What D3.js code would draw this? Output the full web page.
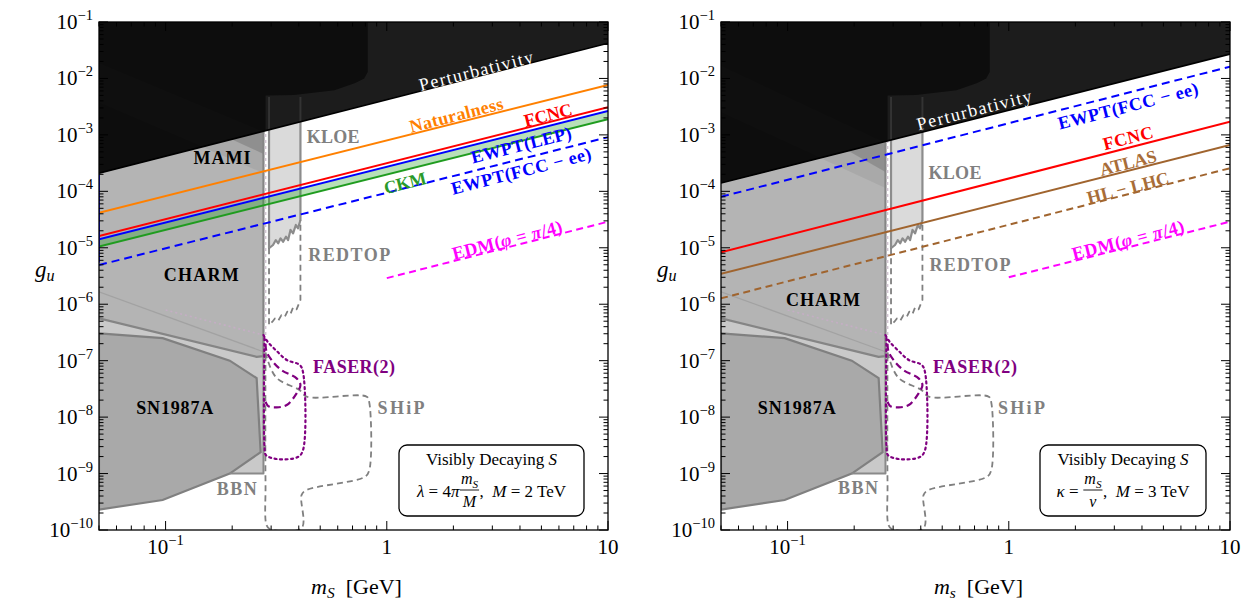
<!DOCTYPE html>
<html><head><meta charset="utf-8">
<script src="https://cdn.jsdelivr.net/npm/d3@7"></script>
<style>
body{margin:0;background:#fff}
</style>
</head><body>
<svg id="c" width="1251" height="602"></svg>
<script>
// ---------------- data ----------------
const xDomain = [0.05, 10];
const yDomain = [1e-10, 1e-1];
const xTickValues = [0.1, 1, 10];
const xTickLabels = [["10", "−1"], ["1", ""], ["10", ""]];
const yTickValues = [1e-1, 1e-2, 1e-3, 1e-4, 1e-5, 1e-6, 1e-7, 1e-8, 1e-9, 1e-10];
const yTickLabels = [["10","−1"],["10","−2"],["10","−3"],["10","−4"],["10","−5"],["10","−6"],["10","−7"],["10","−8"],["10","−9"],["10","−10"]];

// exclusion regions (m_S [GeV], g_u)
const perturbativityLeft  = [[0.05, 2.1e-4], [10, 4.2e-2]];
const perturbativityRight = [[0.05, 1.4e-4], [10, 2.7e-2]];
const darkRegion = [[0.05,1],[0.82,1],[0.82,1.3e-2],[0.79,1.0e-2],[0.72,8.3e-3],[0.58,6.2e-3],[0.38,5.1e-3],[0.283,5.0e-3],[0.283,1e-6],[0.05,1e-6]];
const charm = [[0.05,1],[0.277,1],[0.277,1.2e-7],[0.258,1.17e-7],[0.05,5.6e-7]];
const charmEdge = [[0.05,5.6e-7],[0.258,1.17e-7],[0.277,1.2e-7],[0.277,1]];
const charmInner = [[0.05,1.66e-6],[0.277,1.44e-7]];
const bbn = [[0.05,5.6e-7],[0.258,1.17e-7],[0.277,1.2e-7],[0.277,1e-9],[0.05,1e-9]];
const bbnEdge = [[0.277,1.2e-7],[0.277,1e-9],[0.195,1e-9]];
const sn1987a = [[0.05,3.05e-7],[0.097,2.5e-7],[0.195,1.0e-7],[0.258,4.9e-8],[0.269,2.4e-9],[0.195,1.0e-9],[0.097,3.4e-10],[0.05,2.3e-10]];
const mamiOuterLeft = [[0.05,1.9e-2],[0.277,1.15e-3],[0.277,2.1e-4],[0.05,3.7e-3]];
const mamiInnerLeft = [[0.05,1.9e-2],[0.277,1.15e-3],[0.277,4.6e-4],[0.05,1.0e-2]];
const mamiOuterRight = [[0.05,1.7e-2],[0.277,7.3e-4],[0.277,1.15e-4],[0.05,2.5e-3]];
const mamiInnerRight = [[0.05,1.7e-2],[0.277,7.3e-4],[0.277,2.2e-4],[0.05,1.0e-2]];
const kloe = [[0.2935,4.7e-3],[0.407,4.7e-3],[0.407,3.1e-5],[0.397,2.21e-5],[0.388,2.53e-5],[0.377,1.8e-5],[0.367,2.07e-5],[0.358,1.37e-5],[0.350,1.57e-5],[0.340,1.28e-5],[0.331,1.47e-5],[0.323,1.2e-5],[0.315,1.37e-5],[0.306,1.12e-5],[0.2935,9.8e-6]];
const redtop = [[0.2935,9.8e-6],[0.2935,4.3e-7],[0.304,4.9e-7],[0.312,5.6e-7],[0.323,5.1e-7],[0.334,6.4e-7],[0.346,6.0e-7],[0.355,7.4e-7],[0.367,6.7e-7],[0.377,8.8e-7],[0.391,8.1e-7],[0.407,1.19e-6],[0.407,3.1e-5]];
const ship = [[0.283,1.4e-7],[0.289,1.03e-7],[0.318,4.92e-8],[0.404,3.0e-8],[0.434,2.3e-8],[0.812,2.3e-8],[0.834,1.78e-8],[0.834,1.16e-9],[0.798,8.8e-10],[0.434,5.1e-10],[0.412,4.2e-10],[0.412,1.08e-10],[0.296,1.04e-10],[0.286,1.22e-10],[0.283,6.8e-10],[0.283,1.4e-7]];
const faser2 = [[0.277,2.84e-7],[0.29,2.14e-7],[0.318,1.48e-7],[0.353,1.03e-7],[0.404,8.4e-8],[0.418,6.3e-8],[0.418,2.6e-9],[0.396,1.96e-9],[0.318,1.81e-9],[0.284,2.13e-9],[0.28,3e-9],[0.28,2.84e-7]];
const faser2Hidden = [[0.1,7.9e-7],[0.277,2.84e-7]];
const faser2HiddenEdge = [[0.283,2.84e-7],[0.283,1e-2]];
const faser = [[0.283,2.0e-7],[0.286,1.44e-7],[0.301,1.03e-7],[0.334,6.8e-8],[0.391,4.86e-8],[0.407,3.7e-8],[0.391,2.63e-8],[0.353,1.64e-8],[0.318,1.49e-8],[0.291,1.57e-8],[0.279,2.15e-8]];

// projection lines, left panel
const naturalnessLeft = [[0.05,4.18e-5],[10,7.66e-3]];
const fcncLeft        = [[0.05,1.62e-5],[10,3.09e-3]];
const ewptLepLeft     = [[0.05,1.41e-5],[10,2.65e-3]];
const ckmLeft         = [[0.05,1.05e-5],[10,1.89e-3]];
const ewptFccLeft     = [[0.05,4.95e-6],[10,9.1e-4]];
const ewptEdgeLeft    = [[0.05,2.1e-4],[0.05,5.5e-6]];
const edmLeft         = [[1,2.9e-6],[10,2.9e-5]];
// right panel
const ewptFccRight = [[0.05,8.0e-5],[10,1.62e-2]];
const fcncRight    = [[0.05,8.3e-6],[10,1.71e-3]];
const atlasRight   = [[0.05,3.45e-6],[10,6.6e-4]];
const hllhcRight   = [[0.05,1.27e-6],[10,2.57e-4]];
const edmRight     = [[1,3.0e-6],[10,2.9e-5]];

// labels (text, anchor in data coords)
const labelsLeft = [
 {t:[["Perturbativity"]], m:2.53, g:1.36e-2, c:"#fff", rot:true, w:117, bold:false},
 {t:[["Naturalness"]], m:2.06, g:2.25e-3, c:"#ff8000", rot:true, w:96},
 {t:[["FCNC"]], m:5.36, g:2.25e-3, c:"#ff0000", rot:true, w:49},
 {t:[["EWPT(LEP)"]], m:4.05, g:6.6e-4, c:"#0000ff", rot:true, w:103},
 {t:[["EWPT(FCC − ee)"]], m:4.05, g:2.29e-4, c:"#0000ff", rot:true, w:144},
 {t:[["CKM"]], m:1.21, g:1.4e-4, c:"#2a9a2a", rot:true, w:43},
 {t:[["EDM("],["φ","i"],[" = "],["π","i"],["/4)"]], m:3.5, g:1.37e-5, c:"#ff00ff", rot:true, w:113},
 {t:[["KLOE"]], m:0.572, g:9.2e-4, c:"#808080", w:53},
 {t:[["REDTOP"]], m:0.676, g:7.4e-6, c:"#808080", w:82},
 {t:[["MAMI"]], m:0.18, g:3.9e-4, c:"#000", w:57},
 {t:[["CHARM"]], m:0.145, g:3.3e-6, c:"#000", w:75},
 {t:[["FASER(2)"]], m:0.711, g:7.7e-8, c:"#800080", w:82},
 {t:[["SN1987A"]], m:0.110, g:1.45e-8, c:"#000", w:77},
 {t:[["SHiP"]], m:1.16, g:1.45e-8, c:"#808080", w:47},
 {t:[["BBN"]], m:0.21, g:5.3e-10, c:"#808080", w:40}
];
const labelsRight = [
 {t:[["Perturbativity"]], m:0.697, g:2.76e-3, c:"#fff", rot:true, w:118, bold:false},
 {t:[["EWPT(FCC − ee)"]], m:3.46, g:3.25e-3, c:"#0000ff", rot:true, w:144},
 {t:[["FCNC"]], m:3.46, g:8.8e-4, c:"#ff0000", rot:true, w:51},
 {t:[["ATLAS"]], m:3.46, g:3.18e-4, c:"#a86d38", rot:true, w:58},
 {t:[["HL − LHC"]], m:3.46, g:1.15e-4, c:"#a86d38", rot:true, w:84},
 {t:[["EDM("],["φ","i"],[" = "],["π","i"],["/4)"]], m:3.46, g:1.37e-5, c:"#ff00ff", rot:true, w:115},
 {t:[["KLOE"]], m:0.571, g:2.1e-4, c:"#808080", w:53},
 {t:[["REDTOP"]], m:0.668, g:4.95e-6, c:"#808080", w:81},
 {t:[["CHARM"]], m:0.1445, g:1.19e-6, c:"#000", w:74},
 {t:[["FASER(2)"]], m:0.703, g:7.7e-8, c:"#800080", w:84},
 {t:[["SN1987A"]], m:0.110, g:1.45e-8, c:"#000", w:78},
 {t:[["SHiP"]], m:1.14, g:1.45e-8, c:"#808080", w:47},
 {t:[["BBN"]], m:0.208, g:5.5e-10, c:"#808080", w:40}
];

// ---------------- font detection ----------------
function pickFont(cands) {
  const cv = document.createElement("canvas").getContext("2d");
  const probe = "mmmmmmmmwwwwwiiiiilllQ1234567890";
  for (const f of cands) {
    let ok = false;
    for (const base of ["monospace", "sans-serif"]) {
      cv.font = `40px ${base}`; const w0 = cv.measureText(probe).width;
      cv.font = `40px "${f}", ${base}`; const w1 = cv.measureText(probe).width;
      if (Math.abs(w0 - w1) > 0.5) ok = true;
    }
    if (ok) return `"${f}"`;
  }
  return "serif";
}
const FONT = pickFont(["Liberation Serif", "Times New Roman", "Tinos", "DejaVu Serif", "Noto Serif", "FreeSerif", "Nimbus Roman", "Nimbus Roman No9 L", "Times"]) + ", serif";

// ---------------- drawing ----------------
const svg = d3.select("#c").attr("font-family", FONT).style("font-family", FONT);
const defs = svg.append("defs");
const Y0 = 22, Y1 = 530;
const panelPx = [[99, 608], [721, 1230]];

function addParts(sel, parts, size) {
  let shift = 0;
  parts.forEach(p => {
    const [s, st] = p;
    const ts = sel.append("tspan").text(s);
    if (st === "i") ts.attr("font-style", "italic");
    if (st === "sub") {
      ts.attr("font-style", "italic").attr("font-size", size * 0.7).attr("dy", 4 - shift);
      shift = 4;
    } else if (shift !== 0) { ts.attr("dy", -shift); shift = 0; }
  });
}

function drawPanel(idx, cfg) {
  const [px0, px1] = panelPx[idx];
  const x = d3.scaleLog().domain(xDomain).range([px0, px1]);
  const y = d3.scaleLog().domain(yDomain).range([Y1, Y0]);
  const line = d3.line().x(d => x(d[0])).y(d => y(d[1]));
  const smooth = d3.line().x(d => x(d[0])).y(d => y(d[1])).curve(d3.curveCatmullRom.alpha(0.5));

  defs.append("clipPath").attr("id", "plot" + idx).append("rect")
    .attr("x", px0).attr("y", Y0).attr("width", px1 - px0).attr("height", Y1 - Y0);
  const pertPoly = [cfg.pert[0], cfg.pert[1], [10, 1], [0.05, 1]];
  defs.append("clipPath").attr("id", "pert" + idx).append("path").attr("d", line(pertPoly) + "Z");

  const g = svg.append("g").attr("clip-path", `url(#plot${idx})`);
  const area = (pts, fill, op) => g.append("path").attr("d", line(pts) + "Z").attr("fill", fill).attr("fill-opacity", op == null ? 1 : op);
  const stroke = (pts, col, w, dash, gen) => g.append("path").attr("d", (gen || line)(pts)).attr("fill", "none")
    .attr("stroke", col).attr("stroke-width", w).attr("stroke-dasharray", dash || null).attr("stroke-linejoin", "round");

  // grey exclusion regions
  area(bbn, "#c9c9c9");
  area(charm, "#b4b4b4");
  stroke(faser2Hidden, "#c4aec4", 1.6, "2,3");
  stroke(charmInner, "#a2a2a2", 1.2);
  area(cfg.mamiOuter, "#000", 0.06);
  area(cfg.mamiInner, "#000", 0.15);
  area(kloe, "#dadada");
  area(sn1987a, "#a9a9a9");
  g.append("path").attr("d", line(sn1987a) + "Z").attr("fill", "none").attr("stroke", "#808080").attr("stroke-width", 2.2);
  stroke(charmEdge, "#858585", 2.2);
  stroke(bbnEdge, "#8a8a8a", 2);
  stroke(kloe.slice(1).concat([kloe[0]]), "#8c8c8c", 2.2);
  stroke(faser2HiddenEdge, "#d2c6d2", 1.8, "3,3");
  // future sensitivities (dashed)
  stroke(redtop, "#808080", 1.8, "6,4");
  stroke(ship, "#808080", 1.8, "6,4", smooth);
  stroke(faser2, "#800080", 2.2, "2,3.5", smooth).attr("stroke-linecap", "round");
  stroke(faser, "#800080", 2.2, "7,4", smooth);

  // projection lines
  if (cfg.band) {
    g.append("path").attr("d", line(cfg.band[0].concat(cfg.band[1].slice().reverse())) + "Z")
      .attr("fill", "#22a022").attr("fill-opacity", 0.32);
  }
  cfg.lines.forEach(l => stroke(l.d, l.c, 2, l.dash));

  // perturbativity (black)
  g.append("path").attr("d", line(pertPoly) + "Z").attr("fill", "#1c1c1c");
  const pg = g.append("g").attr("clip-path", `url(#pert${idx})`);
  pg.append("path").attr("d", line(darkRegion) + "Z").attr("fill", "#0d0d0d");
  pg.append("path").attr("d", line(cfg.mamiOuter) + "Z").attr("fill", "#fff").attr("fill-opacity", 0.012);
  pg.append("path").attr("d", line([kloe[0], [kloe[0][0], 1e-6]])).attr("stroke", "#333").attr("stroke-width", 2);
  pg.append("path").attr("d", line([kloe[1], [kloe[1][0], 1e-6]])).attr("stroke", "#333").attr("stroke-width", 2);
  stroke(cfg.pert, "#000", 1.6);

  // labels
  const ang = Math.atan((y(1e-3) - y(1e-2)) / (x(10) - x(1))) * 180 / Math.PI;
  cfg.labels.forEach(L => {
    const t = svg.append("text")
      .attr("transform", `translate(${x(L.m)},${y(L.g)})` + (L.rot ? ` rotate(${-ang})` : ""))
      .attr("text-anchor", "middle").attr("dominant-baseline", "central")
      .attr("font-size", 18).attr("font-weight", L.bold === false ? "normal" : "bold")
      .attr("fill", L.c);
    addParts(t, L.t, 18);
    if (L.w) t.attr("textLength", L.w).attr("lengthAdjust", "spacing");
  });

  // frame + ticks
  const ax = svg.append("g").attr("stroke", "#000").attr("stroke-width", 1);
  ax.append("rect").attr("x", px0).attr("y", Y0).attr("width", px1 - px0).attr("height", Y1 - Y0)
    .attr("fill", "none").attr("stroke-width", 1.3);
  const xMinor = [], yMinor = [];
  for (let e = -2; e <= 0; e++) for (let k = 2; k <= 9; k++) { const v = k * Math.pow(10, e); if (v >= 0.05 && v <= 10) xMinor.push(v); }
  for (let e = -10; e <= -2; e++) for (let k = 2; k <= 9; k++) yMinor.push(k * Math.pow(10, e));
  const tk = (v, len, isX) => {
    if (isX) {
      const xx = x(v);
      ax.append("line").attr("x1", xx).attr("x2", xx).attr("y1", Y1).attr("y2", Y1 - len);
      ax.append("line").attr("x1", xx).attr("x2", xx).attr("y1", Y0).attr("y2", Y0 + len);
    } else {
      const yy = y(v);
      ax.append("line").attr("y1", yy).attr("y2", yy).attr("x1", px0).attr("x2", px0 + len);
      ax.append("line").attr("y1", yy).attr("y2", yy).attr("x1", px1).attr("x2", px1 - len);
    }
  };
  xMinor.forEach(v => tk(v, 4.5, true));
  xTickValues.forEach(v => tk(v, 9, true));
  yMinor.forEach(v => tk(v, 4.5, false));
  yTickValues.forEach(v => tk(v, 9, false));

  // tick labels
  const supLabel = (xx, yy, lab, anchor) => {
    const t = svg.append("text").attr("x", xx).attr("y", yy).attr("text-anchor", anchor).attr("font-size", 21);
    t.append("tspan").text(lab[0]);
    if (lab[1]) t.append("tspan").text(lab[1]).attr("font-size", 14.5).attr("dy", -9);
  };
  xTickValues.forEach((v, i) => supLabel(x(v), 554, xTickLabels[i], "middle"));
  yTickValues.forEach((v, i) => supLabel(px0 - 6, y(v) + 7, yTickLabels[i], "end"));

  // axis labels
  const xl = svg.append("text").attr("x", (px0 + px1) / 2 + 3).attr("y", 594).attr("text-anchor", "middle")
    .attr("font-size", 22).attr("xml:space", "preserve");
  addParts(xl, [["m", "i"], [cfg.xSub, "sub"], ["  [GeV]"]], 22);
  const yl = svg.append("text").attr("x", px0 - 64).attr("y", 277).attr("font-size", 23);
  addParts(yl, [["g", "i"], ["u", "sub"]], 23);

  // info box
  const bw = cfg.boxW, bx = px1 - 24 - bw, by = 445, bh = 71;
  svg.append("rect").attr("x", bx).attr("y", by).attr("width", bw).attr("height", bh).attr("rx", 8)
    .attr("fill", "#fff").attr("stroke", "#000").attr("stroke-width", 1.3);
  const cx = bx + bw / 2;
  const t1 = svg.append("text").attr("x", cx).attr("y", 465).attr("text-anchor", "middle").attr("font-size", 17);
  addParts(t1, [["Visibly Decaying "], ["S", "i"]], 17);
  const row = svg.append("g");
  let cur = 0;
  cfg.formula.forEach(it => {
    if (it.frac) {
      const tn = row.append("text").attr("y", 484).attr("font-size", 16).attr("text-anchor", "middle");
      addParts(tn, it.num, 16);
      const td = row.append("text").attr("y", 507).attr("font-size", 16).attr("text-anchor", "middle");
      addParts(td, it.den, 16);
      const w = Math.max(tn.node().getComputedTextLength(), td.node().getComputedTextLength()) + 3;
      tn.attr("x", cur + w / 2); td.attr("x", cur + w / 2);
      row.append("line").attr("x1", cur + 0.5).attr("x2", cur + w - 0.5).attr("y1", 490).attr("y2", 490).attr("stroke", "#000").attr("stroke-width", 0.9);
      cur += w;
    } else {
      const t = row.append("text").attr("x", cur).attr("y", 497).attr("font-size", 17).attr("xml:space", "preserve");
      addParts(t, it.parts, 17);
      cur += t.node().getComputedTextLength();
    }
  });
  row.attr("transform", `translate(${cx - cur / 2},0)`);
}

drawPanel(0, {
  pert: perturbativityLeft, mamiOuter: mamiOuterLeft, mamiInner: mamiInnerLeft,
  band: [ewptLepLeft, ckmLeft],
  lines: [
    {d: naturalnessLeft, c: "#ff8000"},
    {d: ckmLeft, c: "#1f9c1f"},
    {d: ewptLepLeft, c: "#0000ff"},
    {d: fcncLeft, c: "#ff0000"},
    {d: ewptFccLeft, c: "#0000ff", dash: "8,5"},
    {d: ewptEdgeLeft, c: "#0000ff"},
    {d: edmLeft, c: "#ff00ff", dash: "7,4.5"}
  ],
  labels: labelsLeft, xSub: "S", boxW: 185,
  formula: [
    {parts: [["λ", "i"], [" = 4"], ["π", "i"]]},
    {frac: true, num: [["m", "i"], ["S", "sub"]], den: [["M", "i"]]},
    {parts: [[",  "], ["M", "i"], [" = 2 TeV"]]}
  ]
});
drawPanel(1, {
  pert: perturbativityRight, mamiOuter: mamiOuterRight, mamiInner: mamiInnerRight,
  band: null,
  lines: [
    {d: ewptFccRight, c: "#0000ff", dash: "8,5"},
    {d: fcncRight, c: "#ff0000"},
    {d: atlasRight, c: "#a0642e"},
    {d: hllhcRight, c: "#a0642e", dash: "7,4.5"},
    {d: edmRight, c: "#ff00ff", dash: "7,4.5"}
  ],
  labels: labelsRight, xSub: "s", boxW: 166,
  formula: [
    {parts: [["κ", "i"], [" = "]]},
    {frac: true, num: [["m", "i"], ["S", "sub"]], den: [["v", "i"]]},
    {parts: [[",  "], ["M", "i"], [" = 3 TeV"]]}
  ]
});
</script>
</body></html>
